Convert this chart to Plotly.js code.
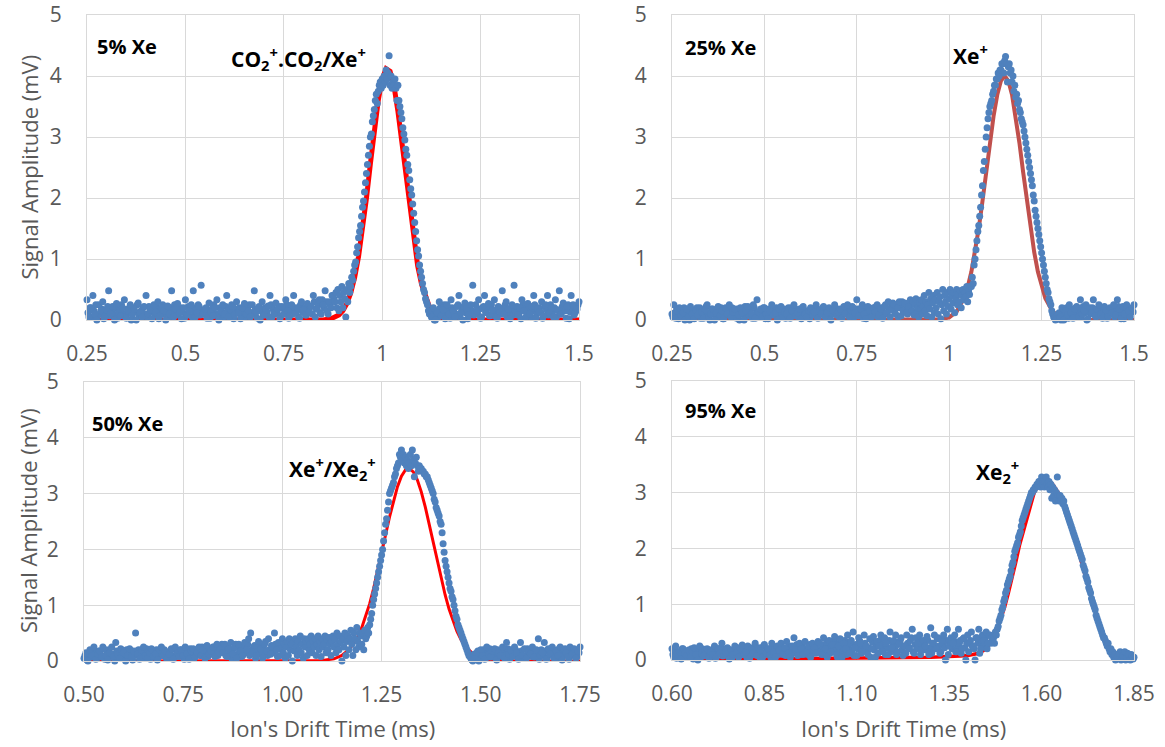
<!DOCTYPE html>
<html>
<head>
<meta charset="utf-8">
<script src="https://cdn.plot.ly/plotly-3.0.1.min.js"></script>
<style>html,body{margin:0;padding:0;background:#fff;}#chart{width:1165px;height:747px;}</style>
</head>
<body>
<div id="chart"></div>
<script>
// ---------- Panel 1 : 5% Xe ----------
const t1 = [
0.25,0.255,0.26,0.265,0.27,0.275,0.28,0.285,0.29,0.295,
0.3,0.305,0.31,0.315,0.32,0.325,0.33,0.335,0.34,0.345,
0.35,0.355,0.36,0.365,0.37,0.375,0.38,0.385,0.39,0.395,
0.4,0.405,0.41,0.415,0.42,0.425,0.43,0.435,0.44,0.445,
0.45,0.455,0.46,0.465,0.47,0.475,0.48,0.485,0.49,0.495,
0.5,0.505,0.51,0.515,0.52,0.525,0.53,0.535,0.54,0.545,
0.55,0.555,0.56,0.565,0.57,0.575,0.58,0.585,0.59,0.595,
0.6,0.605,0.61,0.615,0.62,0.625,0.63,0.635,0.64,0.645,
0.65,0.655,0.66,0.665,0.67,0.675,0.68,0.685,0.69,0.695,
0.7,0.705,0.71,0.715,0.72,0.725,0.73,0.735,0.74,0.745,
0.75,0.755,0.76,0.765,0.77,0.775,0.78,0.785,0.79,0.795,
0.8,0.805,0.81,0.815,0.82,0.825,0.83,0.835,0.84,0.845,
0.85,0.855,0.86,0.865,0.87,0.875,
0.88,0.8825,0.885,0.8875,0.89,0.8925,0.895,0.8975,
0.9,0.9025,0.905,0.9075,0.91,0.9125,0.915,0.9175,0.92,0.9225,0.925,0.9275,0.93,0.9325,0.935,0.9375,0.94,0.9425,0.945,0.9475,0.95,0.9525,0.955,0.9575,0.96,0.9625,0.965,0.9675,0.97,0.9725,0.975,0.9775,0.98,0.9825,0.985,0.9875,0.99,0.9925,0.995,0.9975,
1,1.0025,1.005,1.0075,1.01,1.0125,1.015,1.0175,1.02,1.0225,1.025,1.0275,1.03,1.0325,1.035,1.0375,1.04,1.0425,1.045,1.0475,1.05,1.0525,1.055,1.0575,1.06,1.0625,1.065,1.0675,1.07,1.0725,1.075,1.0775,1.08,1.0825,1.085,1.0875,1.09,1.0925,1.095,1.0975,1.1,1.1025,1.105,1.1075,1.11,1.1125,1.115,1.1175,1.12,
1.125,1.13,1.135,1.14,1.145,1.15,1.155,1.16,1.165,1.17,
1.175,1.18,1.185,1.19,1.195,1.2,1.205,1.21,1.215,1.22,
1.225,1.23,1.235,1.24,1.245,1.25,1.255,1.26,1.265,1.27,
1.275,1.28,1.285,1.29,1.295,1.3,1.305,1.31,1.315,1.32,
1.325,1.33,1.335,1.34,1.345,1.35,1.355,1.36,1.365,1.37,
1.375,1.38,1.385,1.39,1.395,1.4,1.405,1.41,1.415,1.42,
1.425,1.43,1.435,1.44,1.445,1.45,1.455,1.46,1.465,1.47,
1.475,1.48,1.485,1.49,1.495,1.5];
const v1 = [
0.33,0.05,0.2,0.4,0.1,0,0.25,0.15,0.3,0.05,
0.17,0.48,0.1,0.22,0,0.27,0.12,0.07,0.2,0.33,
0.03,0.15,0.25,0.08,0.18,0,0.28,0.12,0.05,0.22,
0.4,0.1,0.17,0.02,0.25,0.13,0.3,0.07,0.2,0.15,
0,0.23,0.1,0.48,0.05,0.18,0.27,0.12,0.02,0.2,
0.33,0.08,0.15,0.25,0.48,0.05,0.12,0.22,0.57,0.1,
0.18,0.03,0.28,0.13,0.07,0.2,0.33,0,0.15,0.25,
0.1,0.4,0.05,0.17,0.22,0.08,0.3,0.12,0.02,0.2,
0.27,0.1,0.15,0.05,0.25,0.48,0.13,0.2,0,0.3,
0.08,0.17,0.23,0.4,0.05,0.12,0.28,0.18,0.02,0.22,
0.1,0.33,0.15,0.07,0.25,0.4,0.12,0.2,0.03,0.3,
0.17,0.08,0.27,0.13,0.22,0.4,0.05,0.18,0.33,0.1,
0.25,0.48,0.15,0.3,0.2,0.4,
0.3,0.45,0.2,0.5,0.15,0.4,0.3,0.55,
0.2,0.45,0.35,0.05,0.5,0.3,0.6,0.45,0.55,0.7,0.65,0.8,0.9,0.95,1.1,1.2,1.35,1.45,1.55,1.7,1.85,1.95,2.1,2.25,2.4,2.55,2.7,2.85,3.0,3.05,3.25,3.35,3.45,3.6,3.7,3.55,3.75,3.85,3.9,3.8,
3.95,3.85,4.0,3.9,4.1,3.95,4.05,4.33,3.85,4.0,3.8,3.9,3.85,3.95,3.8,3.6,3.85,3.6,3.5,3.4,3.3,3.15,3.05,2.95,2.8,2.7,2.55,2.45,2.3,2.15,2.05,1.9,1.75,1.6,1.45,1.3,1.15,1.05,0.9,0.8,0.7,0.6,0.5,0.45,0.35,0.3,0.25,0.15,0.1,
0.05,0.2,0,0.12,0.3,0.07,0.17,0.02,0.25,0.1,
0.33,0.15,0.05,0.22,0.4,0.12,0,0.28,0.18,0.08,
0.25,0.57,0.1,0.15,0.33,0.03,0.2,0.4,0.12,0.27,
0.07,0.17,0.33,0.05,0.22,0.13,0.48,0.1,0.3,0.18,
0.02,0.25,0.57,0.12,0.08,0.2,0.33,0.15,0.05,0.27,
0.1,0.22,0.4,0.03,0.18,0.13,0.3,0.07,0.25,0.4,
0.12,0.2,0.05,0.33,0.17,0.48,0.1,0.28,0.15,0.22,
0.02,0.4,0.25,0.12,0.18,0.3];
// extra baseline samples (between the ones above)
const t1b = [
0.2525,0.2575,0.2625,0.2675,0.2725,0.2775,0.2825,0.2875,0.2925,0.2975,
0.3025,0.3075,0.3125,0.3175,0.3225,0.3275,0.3325,0.3375,0.3425,0.3475,
0.3525,0.3575,0.3625,0.3675,0.3725,0.3775,0.3825,0.3875,0.3925,0.3975,
0.4025,0.4075,0.4125,0.4175,0.4225,0.4275,0.4325,0.4375,0.4425,0.4475,
0.4525,0.4575,0.4625,0.4675,0.4725,0.4775,0.4825,0.4875,0.4925,0.4975,
0.5025,0.5075,0.5125,0.5175,0.5225,0.5275,0.5325,0.5375,0.5425,0.5475,
0.5525,0.5575,0.5625,0.5675,0.5725,0.5775,0.5825,0.5875,0.5925,0.5975,
0.6025,0.6075,0.6125,0.6175,0.6225,0.6275,0.6325,0.6375,0.6425,0.6475,
0.6525,0.6575,0.6625,0.6675,0.6725,0.6775,0.6825,0.6875,0.6925,0.6975,
0.7025,0.7075,0.7125,0.7175,0.7225,0.7275,0.7325,0.7375,0.7425,0.7475,
0.7525,0.7575,0.7625,0.7675,0.7725,0.7775,0.7825,0.7875,0.7925,0.7975,
0.8025,0.8075,0.8125,0.8175,0.8225,0.8275,0.8325,0.8375,0.8425,0.8475,
0.8525,0.8575,0.8625,0.8675,0.8725,0.8775,
1.1275,1.1325,1.1375,1.1425,1.1475,1.1525,1.1575,1.1625,1.1675,1.1725,
1.1775,1.1825,1.1875,1.1925,1.1975,1.2025,1.2075,1.2125,1.2175,1.2225,
1.2275,1.2325,1.2375,1.2425,1.2475,1.2525,1.2575,1.2625,1.2675,1.2725,
1.2775,1.2825,1.2875,1.2925,1.2975,1.3025,1.3075,1.3125,1.3175,1.3225,
1.3275,1.3325,1.3375,1.3425,1.3475,1.3525,1.3575,1.3625,1.3675,1.3725,
1.3775,1.3825,1.3875,1.3925,1.3975,1.4025,1.4075,1.4125,1.4175,1.4225,
1.4275,1.4325,1.4375,1.4425,1.4475,1.4525,1.4575,1.4625,1.4675,1.4725,
1.4775,1.4825,1.4875,1.4925,1.4975];
const v1b = [
0.12,0.2,0.05,0.15,0.25,0.08,0.1,0.18,0.02,0.13,
0.22,0.07,0.15,0.1,0.2,0.03,0.17,0.25,0.1,0.05,
0.18,0.12,0,0.2,0.13,0.25,0.07,0.15,0.2,0.1,
0.05,0.22,0.13,0.18,0.08,0.2,0.02,0.15,0.25,0.1,
0.17,0.05,0.2,0.12,0.25,0.08,0.15,0.2,0.13,0.03,
0.1,0.22,0.18,0.05,0.13,0.2,0.25,0.08,0.15,0.1,
0.2,0.12,0.03,0.18,0.25,0.1,0.07,0.2,0.13,0.05,
0.22,0.15,0.1,0.25,0.02,0.18,0.12,0.2,0.08,0.15,
0.05,0.2,0.25,0.12,0.1,0.17,0.03,0.22,0.15,0.08,
0.2,0.13,0.05,0.25,0.18,0.1,0.15,0.22,0.07,0.2,
0.12,0.25,0.03,0.18,0.1,0.2,0.15,0.05,0.25,0.13,
0.2,0.08,0.15,0.22,0.1,0.3,0.18,0.25,0.12,0.33,
0.2,0.3,0.1,0.25,0.4,0.35,
0.1,0,0.15,0.05,0.2,0.12,0.25,0.08,0.18,0.03,
0.2,0.13,0.1,0.25,0.05,0.17,0.22,0.12,0.02,0.2,
0.15,0.08,0.25,0.1,0.18,0.05,0.22,0.13,0.2,0.07,
0.25,0.12,0.15,0.03,0.2,0.1,0.18,0.25,0.05,0.13,
0.2,0.08,0.15,0.22,0.1,0.02,0.25,0.18,0.12,0.2,
0.05,0.15,0.25,0.1,0.2,0.13,0.03,0.22,0.17,0.08,
0.25,0.12,0.2,0.05,0.15,0.1,0.22,0.18,0.03,0.25,
0.13,0.2,0.08,0.15,0.25];
const fitT1 = [0.25,0.5,0.75,0.85,0.87,0.88,0.89,0.9,0.91,0.92,0.93,0.94,0.95,0.96,0.97,0.98,0.99,1,1.01,1.02,1.03,1.04,1.05,1.06,1.07,1.08,1.09,1.1,1.11,1.12,1.13,1.14,1.16,1.18,1.25,1.5];
const fitV1 = [0,0,0,0.002,0.021,0.043,0.083,0.153,0.267,0.442,0.697,1.043,1.482,1.999,2.562,3.117,3.603,3.954,4.12,4.078,3.833,3.42,2.9,2.335,1.785,1.295,0.894,0.585,0.364,0.215,0.12,0.064,0.016,0.003,0,0];

// ---------- Panel 2 : 25% Xe ----------
const t2 = [
0.25,0.255,0.26,0.265,0.27,0.275,0.28,0.285,0.29,0.295,
0.3,0.305,0.31,0.315,0.32,0.325,0.33,0.335,0.34,0.345,
0.35,0.355,0.36,0.365,0.37,0.375,0.38,0.385,0.39,0.395,
0.4,0.405,0.41,0.415,0.42,0.425,0.43,0.435,0.44,0.445,
0.45,0.455,0.46,0.465,0.47,0.475,0.48,0.485,0.49,0.495,
0.5,0.505,0.51,0.515,0.52,0.525,0.53,0.535,0.54,0.545,
0.55,0.555,0.56,0.565,0.57,0.575,0.58,0.585,0.59,0.595,
0.6,0.605,0.61,0.615,0.62,0.625,0.63,0.635,0.64,0.645,
0.65,0.655,0.66,0.665,0.67,0.675,0.68,0.685,0.69,0.695,
0.7,0.705,0.71,0.715,0.72,0.725,0.73,0.735,0.74,0.745,
0.75,0.755,0.76,0.765,0.77,0.775,0.78,0.785,0.79,0.795,
0.8,0.805,0.81,0.815,0.82,0.825,0.83,0.835,0.84,0.845,
0.85,0.855,0.86,0.865,0.87,0.875,0.88,0.885,0.89,0.895,
0.9,0.9025,0.905,0.9075,0.91,0.9125,0.915,0.9175,0.92,0.9225,0.925,0.9275,0.93,0.9325,0.935,0.9375,0.94,0.9425,0.945,0.9475,0.95,0.9525,0.955,0.9575,0.96,0.9625,0.965,0.9675,0.97,0.9725,0.975,0.9775,0.98,0.9825,0.985,0.9875,0.99,0.9925,0.995,0.9975,
1,1.0025,1.005,1.0075,1.01,1.0125,1.015,1.0175,1.02,1.0225,1.025,1.0275,1.03,1.0325,1.035,1.0375,1.04,1.0425,1.045,1.0475,1.05,1.0525,1.055,1.0575,
1.06,1.0625,1.065,1.0675,1.07,1.0725,1.075,1.0775,1.08,1.0825,1.085,1.0875,1.09,1.0925,1.095,1.0975,
1.1,1.1025,1.105,1.1075,1.11,1.1125,1.115,1.1175,1.12,1.1225,1.125,1.1275,1.13,1.1325,1.135,1.1375,1.14,1.1425,1.145,1.1475,1.15,1.1525,1.155,1.1575,1.16,1.1625,1.165,1.1675,1.17,1.1725,1.175,1.1775,1.18,1.1825,1.185,1.1875,1.19,1.1925,1.195,1.1975,
1.2,1.2025,1.205,1.2075,1.21,1.2125,1.215,1.2175,1.22,1.2225,1.225,1.2275,1.23,1.2325,1.235,1.2375,1.24,1.2425,1.245,1.2475,1.25,1.2525,1.255,1.2575,1.26,1.2625,1.265,1.2675,1.27,1.2725,1.275,1.2775,1.28,1.2825,1.285,1.2875,
1.29,1.295,1.3,1.305,1.31,1.315,1.32,1.325,1.33,1.335,1.34,1.345,1.35,1.355,1.36,1.365,1.37,1.375,1.38,1.385,1.39,1.395,1.4,1.405,1.41,1.415,1.42,1.425,1.43,1.435,1.44,1.445,1.45,1.455,1.46,1.465,1.47,1.475,1.48,1.485,1.49,1.495,1.5];
const v2 = [
0.1,0.25,0.03,0.15,0.2,0.07,0.12,0,0.18,0.05,
0.22,0.1,0.02,0.15,0.08,0.2,0.13,0.03,0.17,0.25,
0.05,0.1,0.18,0,0.12,0.22,0.07,0.15,0.02,0.2,
0.1,0.25,0.05,0.13,0.18,0.03,0.08,0.2,0.12,0,
0.15,0.22,0.07,0.1,0.25,0.03,0.33,0.13,0.18,0.05,
0.2,0.1,0.02,0.15,0.25,0.08,0.12,0,0.18,0.22,
0.05,0.13,0.1,0.2,0.03,0.15,0.25,0.07,0.12,0.18,
0.02,0.22,0.1,0.05,0.15,0.2,0.08,0.13,0.25,0.03,
0.17,0.1,0.22,0.05,0.12,0.2,0,0.15,0.25,0.08,
0.13,0.18,0.03,0.22,0.1,0.25,0.05,0.15,0.2,0.12,
0.33,0.07,0.18,0.25,0.1,0.02,0.22,0.15,0.05,0.2,
0.13,0.25,0.08,0.18,0.03,0.22,0.12,0.3,0.05,0.17,
0.25,0.1,0.2,0.3,0.07,0.15,0.28,0.12,0.22,0.33,
0.15,0.3,0.08,0.25,0.35,0.12,0.2,0.05,0.28,0.18,
0.33,0.1,0.22,0.4,0.15,0.3,0.07,0.25,0.45,0.18,
0.35,0.05,0.28,0.4,0.12,0.33,0.2,0.45,0.1,0.3,
0.38,0.02,0.25,0.5,0.15,0.4,0.3,0.1,0.45,0.22,
0.35,0.5,0.18,0.4,0.28,0.45,0.12,0.35,0.5,0.25,
0.42,0.3,0.48,0.2,0.4,0.5,0.33,0.45,0.38,0.55,
0.3,0.48,0.42,0.55,
0.55,0.7,0.6,0.9,1.0,1.15,1.3,1.45,1.55,1.7,1.85,2.05,2.2,2.45,2.6,2.8,
3.0,3.15,3.3,3.4,3.5,3.55,3.6,3.7,3.75,3.85,3.85,3.95,3.95,4.05,4.0,4.1,4.1,4.2,4.2,4.05,4.25,4.32,4.2,3.9,4.15,4.2,4.05,4.1,3.9,4.0,3.75,3.85,3.65,3.7,3.55,3.6,3.45,3.4,3.3,3.25,
3.2,3.1,3.0,2.9,2.8,2.7,2.6,2.5,2.4,2.3,2.2,2.05,1.95,1.8,1.7,1.6,1.5,1.4,1.3,1.2,1.1,1.0,0.9,0.8,0.7,0.6,0.5,0.45,0.35,0.3,0.25,0.15,0.1,0.05,0.03,0,
0.02,0.1,0.05,0.2,0,0.15,0.08,0.25,0.12,0.03,
0.18,0.22,0.05,0.33,0.1,0.15,0.25,0.02,0.2,0.12,
0.33,0.07,0.18,0.25,0.1,0.03,0.22,0.15,0.05,0.2,
0.12,0.25,0.08,0.33,0.18,0.02,0.22,0.1,0.25,0.15,
0.05,0.2,0.25];
const t2b = [
0.2525,0.2575,0.2625,0.2675,0.2725,0.2775,0.2825,0.2875,0.2925,0.2975,
0.3025,0.3075,0.3125,0.3175,0.3225,0.3275,0.3325,0.3375,0.3425,0.3475,
0.3525,0.3575,0.3625,0.3675,0.3725,0.3775,0.3825,0.3875,0.3925,0.3975,
0.4025,0.4075,0.4125,0.4175,0.4225,0.4275,0.4325,0.4375,0.4425,0.4475,
0.4525,0.4575,0.4625,0.4675,0.4725,0.4775,0.4825,0.4875,0.4925,0.4975,
0.5025,0.5075,0.5125,0.5175,0.5225,0.5275,0.5325,0.5375,0.5425,0.5475,
0.5525,0.5575,0.5625,0.5675,0.5725,0.5775,0.5825,0.5875,0.5925,0.5975,
0.6025,0.6075,0.6125,0.6175,0.6225,0.6275,0.6325,0.6375,0.6425,0.6475,
0.6525,0.6575,0.6625,0.6675,0.6725,0.6775,0.6825,0.6875,0.6925,0.6975,
0.7025,0.7075,0.7125,0.7175,0.7225,0.7275,0.7325,0.7375,0.7425,0.7475,
0.7525,0.7575,0.7625,0.7675,0.7725,0.7775,0.7825,0.7875,0.7925,0.7975,
0.8025,0.8075,0.8125,0.8175,0.8225,0.8275,0.8325,0.8375,0.8425,0.8475,
0.8525,0.8575,0.8625,0.8675,0.8725,0.8775,0.8825,0.8875,0.8925,0.8975,
1.2925,1.2975,1.3025,1.3075,1.3125,1.3175,1.3225,1.3275,1.3325,1.3375,
1.3425,1.3475,1.3525,1.3575,1.3625,1.3675,1.3725,1.3775,1.3825,1.3875,
1.3925,1.3975,1.4025,1.4075,1.4125,1.4175,1.4225,1.4275,1.4325,1.4375,
1.4425,1.4475,1.4525,1.4575,1.4625,1.4675,1.4725,1.4775,1.4825,1.4875,
1.4925,1.4975];
const v2b = [
0.05,0.12,0.18,0.02,0.1,0.15,0.2,0.07,0.13,0,
0.17,0.05,0.12,0.2,0.1,0.03,0.15,0.08,0.22,0.12,
0,0.18,0.1,0.13,0.05,0.15,0.2,0.02,0.1,0.17,
0.08,0.13,0.2,0.05,0.12,0.18,0,0.15,0.1,0.22,
0.07,0.12,0.17,0.03,0.2,0.1,0.13,0.05,0.15,0.2,
0.02,0.12,0.18,0.08,0.1,0.15,0.2,0.05,0.13,0.1,
0.18,0.03,0.15,0.12,0.2,0.07,0.1,0.17,0.05,0.13,
0.2,0.08,0.15,0.12,0.02,0.18,0.1,0.2,0.05,0.15,
0.12,0.2,0.07,0.13,0.18,0.03,0.1,0.15,0.2,0.12,
0.05,0.17,0.1,0.2,0.13,0.08,0.15,0.22,0.05,0.12,
0.18,0.1,0.2,0.03,0.15,0.12,0.2,0.08,0.17,0.1,
0.22,0.05,0.15,0.2,0.12,0.25,0.1,0.18,0.2,0.28,
0.13,0.22,0.05,0.2,0.3,0.15,0.25,0.1,0.2,0.3,
0.05,0.12,0,0.15,0.1,0.2,0.03,0.13,0.18,0.08,
0.2,0.1,0.15,0.05,0.22,0.12,0,0.17,0.1,0.2,
0.13,0.05,0.15,0.2,0.08,0.12,0.18,0.03,0.15,0.1,
0.2,0.05,0.13,0.22,0.1,0.15,0.02,0.2,0.12,0.08,
0.18,0.13];
const fitT2 = [0.25,0.9,0.95,0.98,1,1.02,1.04,1.05,1.06,1.07,1.08,1.09,1.1,1.11,1.12,1.13,1.14,1.15,1.16,1.17,1.18,1.19,1.2,1.21,1.22,1.23,1.24,1.25,1.26,1.28,1.3,1.32,1.35,1.5];
const fitV2 = [0,0,0.001,0.012,0.044,0.136,0.356,0.541,0.791,1.112,1.501,1.947,2.426,2.904,3.341,3.692,3.921,4.0,3.921,3.692,3.341,2.904,2.426,1.947,1.501,1.112,0.791,0.541,0.356,0.136,0.044,0.012,0.001,0];

// ---------- Panel 3 : 50% Xe ----------
const t3 = [
0.5,0.505,0.51,0.515,0.52,0.525,0.53,0.535,0.54,0.545,
0.55,0.555,0.56,0.565,0.57,0.575,0.58,0.585,0.59,0.595,
0.6,0.605,0.61,0.615,0.62,0.625,0.63,0.635,0.64,0.645,
0.65,0.655,0.66,0.665,0.67,0.675,0.68,0.685,0.69,0.695,
0.7,0.705,0.71,0.715,0.72,0.725,0.73,0.735,0.74,0.745,
0.75,0.755,0.76,0.765,0.77,0.775,0.78,0.785,0.79,0.795,
0.8,0.805,0.81,0.815,0.82,0.825,0.83,0.835,0.84,0.845,
0.85,0.855,0.86,0.865,0.87,0.875,0.88,0.885,0.89,0.895,
0.9,0.905,0.91,0.915,0.92,0.925,0.93,0.935,0.94,0.945,
0.95,0.955,0.96,0.965,0.97,0.975,0.98,0.985,0.99,0.995,
1,1.0025,1.005,1.0075,1.01,1.0125,1.015,1.0175,1.02,1.0225,1.025,1.0275,1.03,1.0325,1.035,1.0375,1.04,1.0425,1.045,1.0475,1.05,1.0525,1.055,1.0575,1.06,1.0625,1.065,1.0675,1.07,1.0725,1.075,1.0775,1.08,1.0825,1.085,1.0875,1.09,1.0925,1.095,1.0975,
1.1,1.1025,1.105,1.1075,1.11,1.1125,1.115,1.1175,1.12,1.1225,1.125,1.1275,1.13,1.1325,1.135,1.1375,1.14,1.1425,1.145,1.1475,1.15,1.1525,1.155,1.1575,1.16,1.1625,1.165,1.1675,1.17,1.1725,1.175,1.1775,1.18,1.1825,1.185,1.1875,1.19,1.1925,1.195,1.1975,
1.2,1.2025,1.205,1.2075,1.21,1.2125,1.215,1.2175,1.22,1.2225,1.225,1.2275,1.23,1.2325,1.235,1.2375,1.24,1.2425,1.245,1.2475,1.25,1.2525,1.255,1.2575,1.26,1.2625,1.265,1.2675,1.27,1.2725,1.275,1.2775,1.28,1.2825,1.285,1.2875,1.29,1.2925,1.295,1.2975,
1.3,1.3025,1.305,1.3075,1.31,1.3125,1.315,1.3175,1.32,1.3225,1.325,1.3275,1.33,1.3325,1.335,1.3375,1.34,1.3425,1.345,1.3475,1.35,1.3525,1.355,1.3575,1.36,1.3625,1.365,1.3675,1.37,1.3725,1.375,1.3775,1.38,1.3825,1.385,1.3875,1.39,1.3925,1.395,1.3975,
1.4,1.4025,1.405,1.4075,1.41,1.4125,1.415,1.4175,1.42,1.4225,1.425,1.4275,1.43,1.4325,1.435,1.4375,1.44,1.4425,1.445,1.4475,1.45,1.4525,1.455,1.4575,1.46,1.4625,1.465,1.4675,1.47,1.4725,1.475,1.4775,1.48,
1.485,1.49,1.495,1.5,1.505,1.51,1.515,1.52,1.525,1.53,
1.535,1.54,1.545,1.55,1.555,1.56,1.565,1.57,1.575,1.58,
1.585,1.59,1.595,1.6,1.605,1.61,1.615,1.62,1.625,1.63,
1.635,1.64,1.645,1.65,1.655,1.66,1.665,1.67,1.675,1.68,
1.685,1.69,1.695,1.7,1.705,1.71,1.715,1.72,1.725,1.73,
1.735,1.74,1.745,1.75];
const v3 = [
0.05,0.15,0,0.2,0.1,0.25,0.03,0.12,0.18,0.07,
0.22,0.1,0.02,0.15,0.25,0.08,0.33,0.12,0.05,0.2,
0.15,0,0.1,0.22,0.07,0.18,0.5,0.12,0.03,0.2,
0.25,0.1,0.05,0.15,0.22,0.08,0.13,0.02,0.2,0.25,
0.1,0.17,0.05,0.12,0.22,0.03,0.25,0.15,0.08,0.2,
0.1,0.25,0.13,0.03,0.18,0.22,0.07,0.15,0.25,0.1,
0.2,0.05,0.28,0.12,0.18,0.25,0.08,0.3,0.15,0.22,
0.15,0.3,0.08,0.22,0.33,0.12,0.25,0.05,0.3,0.18,
0.1,0.33,0.2,0.4,0.5,0.15,0.28,0.1,0.35,0.22,
0.05,0.3,0.18,0.4,0.12,0.25,0.5,0.2,0.33,0.1,
0.4,0.15,0.3,0.05,0.25,0.35,0.1,0.4,0.2,0.3,
0,0.33,0.18,0.4,0.25,0.1,0.35,0.2,0.45,0.15,
0.3,0.05,0.4,0.25,0.35,0.1,0.4,0.2,0.3,0.45,
0.15,0.35,0.25,0.4,0.1,0.3,0.45,0.2,0.35,0.08,
0.4,0.25,0.3,0.45,0.15,0.38,0.2,0.42,0.3,0.1,
0.35,0.45,0.25,0.4,0.15,0.5,0.3,0.2,0.45,0.35,
0,0.4,0.25,0.5,0.1,0.35,0.45,0.2,0.4,0.55,
0.3,0.1,0.5,0.4,0.2,0.6,0.35,0.25,0.5,0.45,
0.3,0.5,0.2,0.55,0.4,0.45,0.6,0.5,0.65,0.75,0.85,1.0,1.1,1.2,1.3,1.4,1.5,1.6,1.7,1.8,1.9,2.0,2.15,2.3,2.45,2.55,2.7,2.85,3.0,3.05,3.1,3.15,3.2,3.3,3.35,3.45,3.5,3.55,3.7,3.65,
3.78,3.6,3.7,3.55,3.65,3.5,3.6,3.45,3.55,3.7,3.5,3.78,3.6,3.3,3.55,3.65,3.5,3.4,3.5,3.45,3.45,3.4,3.4,3.35,3.35,3.3,3.3,3.25,3.2,3.15,3.1,3.05,3.0,2.9,2.85,2.75,2.7,2.65,2.6,2.5,
2.45,2.3,2.1,1.95,1.8,1.7,1.6,1.5,1.4,1.3,1.25,1.15,1.1,1.0,0.9,0.8,0.75,0.65,0.6,0.55,0.5,0.45,0.4,0.35,0.3,0.25,0.2,0.15,0.1,0.08,0.05,0.02,0,
0.05,0.15,0,0.2,0.1,0.03,0.25,0.12,0.07,0.18,
0.22,0.02,0.15,0.1,0.25,0.05,0.33,0.12,0.2,0.08,
0.25,0.15,0.03,0.33,0.1,0.22,0.05,0.18,0.13,0.25,
0.07,0.2,0.4,0.1,0.15,0.33,0.03,0.22,0.12,0.25,
0.05,0.18,0.1,0.25,0.02,0.2,0.15,0.08,0.25,0.12,
0.22,0.05,0.18,0.25];
const t3b = [
0.5025,0.5075,0.5125,0.5175,0.5225,0.5275,0.5325,0.5375,0.5425,0.5475,
0.5525,0.5575,0.5625,0.5675,0.5725,0.5775,0.5825,0.5875,0.5925,0.5975,
0.6025,0.6075,0.6125,0.6175,0.6225,0.6275,0.6325,0.6375,0.6425,0.6475,
0.6525,0.6575,0.6625,0.6675,0.6725,0.6775,0.6825,0.6875,0.6925,0.6975,
0.7025,0.7075,0.7125,0.7175,0.7225,0.7275,0.7325,0.7375,0.7425,0.7475,
0.7525,0.7575,0.7625,0.7675,0.7725,0.7775,0.7825,0.7875,0.7925,0.7975,
0.8025,0.8075,0.8125,0.8175,0.8225,0.8275,0.8325,0.8375,0.8425,0.8475,
0.8525,0.8575,0.8625,0.8675,0.8725,0.8775,0.8825,0.8875,0.8925,0.8975,
0.9025,0.9075,0.9125,0.9175,0.9225,0.9275,0.9325,0.9375,0.9425,0.9475,
0.9525,0.9575,0.9625,0.9675,0.9725,0.9775,0.9825,0.9875,0.9925,0.9975,
1.4825,1.4875,1.4925,1.4975,1.5025,1.5075,1.5125,1.5175,1.5225,1.5275,
1.5325,1.5375,1.5425,1.5475,1.5525,1.5575,1.5625,1.5675,1.5725,1.5775,
1.5825,1.5875,1.5925,1.5975,1.6025,1.6075,1.6125,1.6175,1.6225,1.6275,
1.6325,1.6375,1.6425,1.6475,1.6525,1.6575,1.6625,1.6675,1.6725,1.6775,
1.6825,1.6875,1.6925,1.6975,1.7025,1.7075,1.7125,1.7175,1.7225,1.7275,
1.7325,1.7375,1.7425,1.7475];
const v3b = [
0.1,0.02,0.15,0.07,0.2,0.12,0.05,0.18,0.1,0.25,
0.03,0.15,0.2,0.08,0.12,0,0.18,0.1,0.22,0.05,
0.13,0.2,0.08,0.15,0.02,0.1,0.18,0.2,0.12,0.05,
0.15,0.22,0.1,0.03,0.18,0.12,0.2,0.07,0.15,0.1,
0.2,0.05,0.13,0.18,0.1,0.22,0.08,0.15,0.2,0.12,
0.03,0.18,0.1,0.22,0.15,0.05,0.2,0.13,0.1,0.25,
0.15,0.22,0.08,0.2,0.12,0.25,0.18,0.1,0.22,0.3,
0.2,0.1,0.25,0.15,0.05,0.22,0.3,0.12,0.2,0.08,
0.25,0.15,0.3,0.1,0.2,0.25,0.05,0.18,0.28,0.12,
0.22,0.35,0.1,0.2,0.28,0.15,0.3,0.08,0.22,0.25,
0.12,0.03,0.18,0.08,0.15,0.2,0.05,0.13,0.22,0.1,
0.15,0.05,0.2,0.12,0.08,0.18,0.1,0.22,0.03,0.15,
0.12,0.2,0.07,0.15,0.18,0.05,0.1,0.22,0.13,0.08,
0.2,0.12,0.15,0.03,0.2,0.1,0.18,0.05,0.15,0.22,
0.1,0.13,0.2,0.05,0.15,0.1,0.22,0.12,0.03,0.18,
0.1,0.2,0.08,0.15];
const fitT3 = [0.5,1,1.05,1.1,1.13,1.15,1.17,1.19,1.2,1.21,1.22,1.23,1.24,1.25,1.26,1.27,1.28,1.29,1.3,1.31,1.32,1.33,1.34,1.35,1.36,1.37,1.38,1.39,1.4,1.41,1.42,1.43,1.44,1.45,1.46,1.48,1.5,1.53,1.6,1.75];
const fitV3 = [0,0,0.0004,0.009,0.04,0.099,0.219,0.438,0.597,0.794,1.028,1.301,1.603,1.927,2.258,2.581,2.876,3.125,3.312,3.422,3.448,3.388,3.246,3.032,2.763,2.456,2.126,1.799,1.483,1.188,0.93,0.711,0.529,0.384,0.272,0.127,0.053,0.012,0,0];

// ---------- Panel 4 : 95% Xe ----------
const t4 = [
0.6,0.605,0.61,0.615,0.62,0.625,0.63,0.635,0.64,0.645,
0.65,0.655,0.66,0.665,0.67,0.675,0.68,0.685,0.69,0.695,
0.7,0.705,0.71,0.715,0.72,0.725,0.73,0.735,0.74,0.745,
0.75,0.755,0.76,0.765,0.77,0.775,0.78,0.785,0.79,0.795,
0.8,0.805,0.81,0.815,0.82,0.825,0.83,0.835,0.84,0.845,
0.85,0.855,0.86,0.865,0.87,0.875,0.88,0.885,0.89,0.895,
0.9,0.905,0.91,0.915,0.92,0.925,0.93,0.935,0.94,0.945,
0.95,0.955,0.96,0.965,0.97,0.975,0.98,0.985,0.99,0.995,
1,1.005,1.01,1.015,1.02,1.025,1.03,1.035,1.04,1.045,
1.05,1.055,1.06,1.065,1.07,1.075,1.08,1.085,1.09,1.095,
1.1,1.105,1.11,1.115,1.12,1.125,1.13,1.135,1.14,1.145,
1.15,1.155,1.16,1.165,1.17,1.175,1.18,1.185,1.19,1.195,
1.2,1.205,1.21,1.215,1.22,1.225,1.23,1.235,1.24,1.245,
1.25,1.255,1.26,1.265,1.27,1.275,1.28,1.285,1.29,1.295,
1.3,1.305,1.31,1.315,1.32,1.325,1.33,1.335,1.34,1.345,
1.35,1.355,1.36,1.365,1.37,1.375,1.38,1.385,1.39,1.395,
1.4,1.405,1.41,1.415,1.42,1.425,1.43,1.435,1.44,1.445,
1.45,1.455,1.46,1.465,
1.47,1.4725,1.475,1.4775,1.48,1.4825,1.485,1.4875,1.49,1.4925,1.495,1.4975,
1.5,1.5025,1.505,1.5075,1.51,1.5125,1.515,1.5175,1.52,1.5225,1.525,1.5275,1.53,1.5325,1.535,1.5375,1.54,1.5425,1.545,1.5475,1.55,1.5525,1.555,1.5575,1.56,1.5625,1.565,1.5675,1.57,1.5725,1.575,1.5775,1.58,1.5825,1.585,1.5875,1.59,1.5925,1.595,1.5975,
1.6,1.6025,1.605,1.6075,1.61,1.6125,1.615,1.6175,1.62,1.6225,1.625,1.6275,1.63,1.6325,1.635,1.6375,1.64,1.6425,1.645,1.6475,1.65,1.6525,1.655,1.6575,1.66,1.6625,1.665,1.6675,1.67,1.6725,1.675,1.6775,1.68,1.6825,1.685,1.6875,1.69,1.6925,1.695,1.6975,
1.7,1.7025,1.705,1.7075,1.71,1.7125,1.715,1.7175,1.72,1.7225,1.725,1.7275,1.73,1.7325,1.735,1.7375,1.74,1.7425,1.745,1.7475,1.75,1.7525,1.755,1.7575,1.76,1.7625,1.765,1.7675,1.77,1.7725,1.775,1.7775,1.78,1.7825,1.785,1.7875,1.79,1.7925,1.795,1.7975,
1.8,
1.805,1.81,1.815,1.82,1.825,1.83,1.835,1.84,1.845,1.85];
const v4 = [
0.2,0.05,0.25,0.1,0.15,0.02,0.2,0.12,0.08,0.18,
0.05,0.15,0.22,0.1,0,0.25,0.12,0.07,0.18,0.2,
0.03,0.15,0.1,0.25,0.05,0.2,0.12,0.3,0.08,0.15,
0.22,0.02,0.18,0.1,0.25,0.13,0.05,0.2,0.27,0.1,
0.15,0.25,0.03,0.2,0.12,0.3,0.08,0.22,0.17,0.05,
0.28,0.12,0.2,0.1,0.3,0.15,0.05,0.25,0.18,0.3,
0.1,0.22,0.33,0.13,0.05,0.25,0.4,0.18,0.08,0.3,
0.2,0.1,0.33,0.15,0.25,0.05,0.3,0.22,0.12,0.33,
0.3,0.1,0.4,0.2,0.05,0.35,0.15,0.28,0.42,0.1,
0.25,0.38,0.05,0.3,0.2,0.45,0.12,0.35,0.5,0.22,
0.08,0.4,0.3,0.15,0.45,0.25,0.1,0.38,0.2,0.42,
0.05,0.33,0.25,0.45,0.15,0.4,0.3,0.1,0.5,0.22,
0.35,0.45,0.15,0.3,0.4,0.08,0.25,0.45,0.2,0.35,
0.55,0.12,0.4,0.3,0.45,0.18,0.35,0.25,0.42,0.1,
0.58,0.3,0.45,0.2,0.4,0.12,0.35,0.45,0,0.55,
0.25,0.4,0.3,0.45,0.15,0.55,0.35,0.2,0.4,0,
0.45,0.3,0.5,0.25,0,0.4,0.55,0.2,0.45,0.35,
0.5,0.3,0.45,0.4,
0.4,0.3,0.5,0.45,0.55,0.6,0.7,0.75,0.8,0.9,0.95,1.05,
1.1,1.2,1.25,1.35,1.4,1.45,1.5,1.6,1.7,1.75,1.85,1.95,2.0,2.05,2.1,2.2,2.25,2.3,2.4,2.5,2.55,2.6,2.65,2.7,2.75,2.8,2.85,2.9,2.95,3.0,3.0,3.05,3.05,3.1,3.1,3.15,3.15,3.2,3.2,3.1,
3.28,3.15,3.2,3.1,3.2,3.28,3.15,3.1,3.2,3.05,3.15,2.9,3.1,2.95,3.05,2.85,3.0,3.28,2.95,2.85,2.95,2.85,2.9,2.8,2.85,2.75,2.7,2.65,2.6,2.55,2.5,2.45,2.4,2.35,2.3,2.25,2.2,2.15,2.1,2.05,
2.0,1.95,1.9,1.85,1.8,1.7,1.65,1.6,1.5,1.45,1.4,1.3,1.25,1.2,1.1,1.05,1.0,0.95,0.9,0.8,0.75,0.7,0.65,0.6,0.55,0.5,0.45,0.4,0.4,0.35,0.3,0.25,0.3,0.2,0.15,0.2,0.1,0.15,0.05,0.1,
0,
0.05,0.12,0,0.08,0.15,0.03,0.1,0,0.07,0.05];
const t4b = [
0.6025,0.6075,0.6125,0.6175,0.6225,0.6275,0.6325,0.6375,0.6425,0.6475,
0.6525,0.6575,0.6625,0.6675,0.6725,0.6775,0.6825,0.6875,0.6925,0.6975,
0.7025,0.7075,0.7125,0.7175,0.7225,0.7275,0.7325,0.7375,0.7425,0.7475,
0.7525,0.7575,0.7625,0.7675,0.7725,0.7775,0.7825,0.7875,0.7925,0.7975,
0.8025,0.8075,0.8125,0.8175,0.8225,0.8275,0.8325,0.8375,0.8425,0.8475,
0.8525,0.8575,0.8625,0.8675,0.8725,0.8775,0.8825,0.8875,0.8925,0.8975,
0.9025,0.9075,0.9125,0.9175,0.9225,0.9275,0.9325,0.9375,0.9425,0.9475,
0.9525,0.9575,0.9625,0.9675,0.9725,0.9775,0.9825,0.9875,0.9925,0.9975,
1.0025,1.0075,1.0125,1.0175,1.0225,1.0275,1.0325,1.0375,1.0425,1.0475,
1.0525,1.0575,1.0625,1.0675,1.0725,1.0775,1.0825,1.0875,1.0925,1.0975,
1.1025,1.1075,1.1125,1.1175,1.1225,1.1275,1.1325,1.1375,1.1425,1.1475,
1.1525,1.1575,1.1625,1.1675,1.1725,1.1775,1.1825,1.1875,1.1925,1.1975,
1.2025,1.2075,1.2125,1.2175,1.2225,1.2275,1.2325,1.2375,1.2425,1.2475,
1.2525,1.2575,1.2625,1.2675,1.2725,1.2775,1.2825,1.2875,1.2925,1.2975,
1.3025,1.3075,1.3125,1.3175,1.3225,1.3275,1.3325,1.3375,1.3425,1.3475,
1.3525,1.3575,1.3625,1.3675,1.3725,1.3775,1.3825,1.3875,1.3925,1.3975,
1.4025,1.4075,1.4125,1.4175,1.4225,1.4275,1.4325,1.4375,1.4425,1.4475,
1.4525,1.4575,1.4625,1.4675,
1.8025,1.8075,1.8125,1.8175,1.8225,1.8275,1.8325,1.8375,1.8425,1.8475];
const v4b = [
0.1,0.18,0.03,0.15,0.08,0.2,0.12,0.05,0.15,0.1,
0.2,0.02,0.13,0.18,0.1,0.05,0.2,0.15,0.08,0.12,
0.18,0.1,0.2,0.03,0.15,0.12,0.22,0.07,0.15,0.2,
0.1,0.18,0.05,0.15,0.12,0.22,0.08,0.15,0.1,0.2,
0.05,0.18,0.12,0.22,0.1,0.15,0.2,0.05,0.13,0.25,
0.1,0.2,0.15,0.05,0.22,0.12,0.2,0.1,0.25,0.15,
0.2,0.08,0.15,0.25,0.1,0.2,0.13,0.28,0.18,0.1,
0.25,0.15,0.2,0.1,0.28,0.18,0.12,0.25,0.2,0.15,
0.15,0.25,0.1,0.3,0.2,0.12,0.25,0.35,0.18,0.05,
0.3,0.15,0.22,0.35,0.1,0.25,0.3,0.18,0.08,0.28,
0.2,0.35,0.12,0.25,0.3,0.15,0.22,0.05,0.32,0.18,
0.25,0.12,0.35,0.2,0.28,0.1,0.22,0.35,0.15,0.3,
0.2,0.1,0.28,0.35,0.18,0.25,0.12,0.3,0.22,0.4,
0.15,0.28,0.2,0.35,0.1,0.25,0.3,0.18,0.35,0.22,
0.12,0.3,0.2,0.38,0.25,0.15,0.3,0.22,0.35,0.1,
0.28,0.2,0.35,0.15,0.25,0.3,0.12,0.38,0.22,0.3,
0.15,0.35,0.25,0.2,0.4,0.3,0.12,0.35,0.25,0.4,
0.2,0.45,0.3,0.38,
0.1,0.03,0.15,0.05,0.1,0,0.12,0.05,0.1,0.02];
const fitT4 = [0.6,1,1.2,1.3,1.38,1.4,1.43,1.45,1.47,1.48,1.49,1.5,1.51,1.52,1.53,1.54,1.55,1.56,1.57,1.58,1.59,1.6,1.61,1.62,1.63,1.64,1.65,1.66,1.67,1.68,1.69,1.7,1.71,1.72,1.73,1.74,1.75,1.76,1.77,1.78,1.79,1.8,1.82,1.85];
const fitV4 = [0,0.02,0.04,0.05,0.07,0.08,0.12,0.2,0.4,0.55,0.75,0.95,1.2,1.45,1.75,2.05,2.3,2.55,2.8,3.0,3.12,3.2,3.25,3.22,3.15,3.05,2.95,2.8,2.6,2.4,2.2,1.95,1.7,1.45,1.22,1.0,0.78,0.58,0.4,0.27,0.16,0.09,0.03,0];

// ---------- labels ----------
const panelLabels = ['5% Xe', '25% Xe', '50% Xe', '95% Xe'];
const ionLabels = ['CO<sub>2</sub><sup>+</sup>.CO<sub>2</sub>/Xe<sup>+</sup>', 'Xe<sup>+</sup>', 'Xe<sup>+</sup>/Xe<sub>2</sub><sup>+</sup>', 'Xe<sub>2</sub><sup>+</sup>'];
const yTitle = 'Signal Amplitude (mV)';
const xTitle = "Ion's Drift Time (ms)";

const BLUE = '#4F81BD';
const FONT = 'Open Sans, Lato, sans-serif';

function fit(x, y, ax, color, w) {
  return {type:'scatter', mode:'lines', x:x, y:y, xaxis:'x'+ax, yaxis:'y'+ax,
    line:{color:color, width:w}, hoverinfo:'skip', showlegend:false, cliponaxis:false};
}
function pts(x, y, ax) {
  return {type:'scatter', mode:'markers', x:x, y:y, xaxis:'x'+ax, yaxis:'y'+ax,
    marker:{color:BLUE, size:7}, showlegend:false, cliponaxis:false};
}
const data = [
  fit(fitT1, fitV1, '', '#FF0000', 5), pts(t1b.concat(t1), v1b.concat(v1), ''),
  fit(fitT2, fitV2, '2', '#C0504D', 4), pts(t2b.concat(t2), v2b.concat(v2), '2'),
  fit(fitT3, fitV3, '3', '#FF0000', 3), pts(t3b.concat(t3), v3b.concat(v3), '3'),
  fit(fitT4, fitV4, '4', '#FF0000', 3.5), pts(t4b.concat(t4), v4b.concat(v4), '4')
];

const W = 1165, H = 747;
function axBase() {
  return {showgrid:true, gridcolor:'#D9D9D9', gridwidth:1, zeroline:false,
    showline:true, mirror:true, linecolor:'#D9D9D9', linewidth:1,
    ticks:'outside', tickcolor:'rgba(0,0,0,0)',
    tickfont:{family:FONT, size:21, color:'#595959'}, fixedrange:true};
}
function xa(px0, px1, r, t0, fmt, anchor) {
  return Object.assign(axBase(), {domain:[px0/W, px1/W], range:r, tick0:t0, dtick:0.25,
    tickformat:fmt, anchor:anchor, ticklen:15});
}
function ya(py0, py1, anchor) {
  return Object.assign(axBase(), {domain:[1-py1/H, 1-py0/H], range:[0,5], dtick:1, anchor:anchor, ticklen:20});
}

const annFont = {family:FONT, size:20, color:'#000000', weight:'bold'};
const ionFont = {family:FONT, size:21, color:'#000000', weight:'bold'};
function ann(text, x, y, xr, yr, f) {
  return {text:'<b>'+text+'</b>', x:x, y:y, xref:xr, yref:yr, xanchor:'left', yanchor:'middle',
    showarrow:false, font:f || annFont};
}
const titleFont = {family:FONT, size:22, color:'#595959'};
const annotations = [
  ann(panelLabels[0], 0.27, 4.49, 'x', 'y'),
  ann(ionLabels[0], 0.612, 4.28, 'x', 'y', ionFont),
  ann(panelLabels[1], 0.28, 4.47, 'x2', 'y2'),
  ann(ionLabels[1], 1.005, 4.36, 'x2', 'y2', ionFont),
  ann(panelLabels[2], 0.515, 4.25, 'x3', 'y3'),
  ann(ionLabels[2], 1.012, 3.45, 'x3', 'y3', ionFont),
  ann(panelLabels[3], 0.63, 4.48, 'x4', 'y4'),
  ann(ionLabels[3], 1.418, 3.37, 'x4', 'y4', ionFont),
  {text:yTitle, x:28/W, y:1-167.5/H, xref:'paper', yref:'paper', textangle:-90, showarrow:false, font:titleFont, xanchor:'center', yanchor:'middle'},
  {text:yTitle, x:28/W, y:1-521/H, xref:'paper', yref:'paper', textangle:-90, showarrow:false, font:titleFont, xanchor:'center', yanchor:'middle'},
  {text:xTitle, x:332/W, y:1-728/H, xref:'paper', yref:'paper', showarrow:false, font:titleFont, xanchor:'center', yanchor:'middle'},
  {text:xTitle, x:903/W, y:1-728/H, xref:'paper', yref:'paper', showarrow:false, font:titleFont, xanchor:'center', yanchor:'middle'}
];

const layout = {
  width:W, height:H, margin:{l:0, r:0, t:0, b:0},
  paper_bgcolor:'#FFFFFF', plot_bgcolor:'#FFFFFF', showlegend:false,
  font:{family:FONT},
  xaxis:  xa(87, 579, [0.25,1.5], 0.25, '', 'y'),
  yaxis:  ya(15, 320, 'x'),
  xaxis2: xa(672, 1134, [0.25,1.5], 0.25, '', 'y2'),
  yaxis2: ya(15, 320, 'x2'),
  xaxis3: xa(84, 580, [0.5,1.75], 0.5, '.2f', 'y3'),
  yaxis3: ya(382, 661, 'x3'),
  xaxis4: xa(672, 1134, [0.6,1.85], 0.6, '.2f', 'y4'),
  yaxis4: ya(381, 660, 'x4'),
  annotations: annotations
};

Plotly.newPlot('chart', data, layout, {staticPlot:true, displayModeBar:false});
</script>
</body>
</html>
